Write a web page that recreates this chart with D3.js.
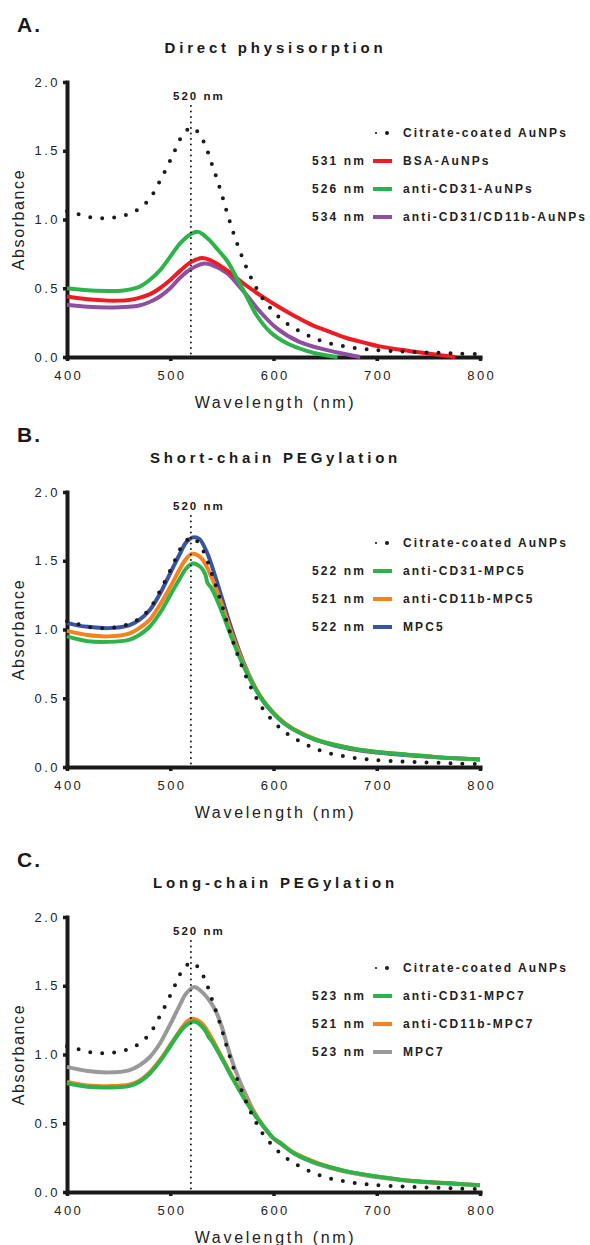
<!DOCTYPE html>
<html>
<head>
<meta charset="utf-8">
<script src="https://cdn.jsdelivr.net/npm/d3@7"></script>
<style>
	body { margin: 0; background: #fff; }
	svg { display: block; font-family: "Liberation Sans", Arial, sans-serif; }
</style>
</head>
<body>
<div id="chart"></div>
<script>
// UV-vis spectra of AuNP conjugates, three stacked panels

const WIDTH = 590;
const HEIGHT = 1245;

// --- data: [wavelength nm, absorbance] ---
const citrate = [[400,1.06],[410,1.04],[420,1.02],[430,1.01],[440,1.01],[450,1.02],[460,1.04],[470,1.08],[480,1.15],[490,1.28],[500,1.43],[505,1.51],[510,1.59],[515,1.64],[520,1.67],[525,1.65],[530,1.60],[535,1.52],[540,1.41],[545,1.30],[550,1.18],[555,1.05],[560,0.93],[565,0.82],[570,0.72],[575,0.63],[580,0.55],[585,0.48],[590,0.42],[600,0.33],[610,0.26],[620,0.21],[630,0.17],[640,0.135],[650,0.108],[660,0.09],[670,0.076],[680,0.065],[690,0.056],[700,0.05],[720,0.041],[740,0.035],[760,0.03],[780,0.025],[800,0.02]];

// panel A
const bsaAuNPs = [[400,0.44],[420,0.42],[440,0.41],[450,0.41],[460,0.415],[470,0.43],[480,0.455],[490,0.50],[500,0.56],[510,0.63],[520,0.69],[531,0.72],[540,0.70],[555,0.63],[570,0.54],[587,0.45],[606,0.36],[620,0.30],[638,0.23],[652,0.19],[670,0.14],[690,0.10],[703,0.077],[720,0.056],[735,0.04],[755,0.02],[776,0.0]];
const cd31AuNPs = [[400,0.50],[420,0.485],[440,0.48],[450,0.48],[460,0.49],[470,0.51],[480,0.56],[490,0.63],[500,0.73],[510,0.83],[520,0.895],[527,0.91],[532,0.89],[535,0.87],[538,0.85],[545,0.79],[555,0.70],[564,0.58],[574,0.44],[584,0.30],[597,0.18],[613,0.10],[632,0.045],[645,0.02],[662,0.0]];
const cd31cd11bAuNPs = [[400,0.38],[420,0.365],[440,0.36],[460,0.365],[470,0.375],[480,0.40],[490,0.44],[500,0.50],[510,0.58],[520,0.64],[533,0.68],[540,0.67],[555,0.61],[565,0.53],[574,0.45],[587,0.33],[603,0.21],[625,0.11],[652,0.05],[670,0.02],[684,0.0]];

// panel B
const cd31MPC5 = [[400,0.95],[420,0.915],[440,0.91],[460,0.925],[470,0.96],[480,1.02],[490,1.12],[500,1.25],[510,1.38],[515,1.44],[522,1.48],[530,1.45],[534,1.40],[536,1.34],[540,1.30],[550,1.13],[560,0.93],[570,0.75],[580,0.60],[590,0.48],[600,0.39],[610,0.32],[620,0.27],[640,0.20],[660,0.16],[680,0.13],[700,0.11],[730,0.09],[760,0.07],[800,0.055]];
const cd11bMPC5 = [[400,0.99],[420,0.96],[440,0.95],[460,0.97],[470,1.01],[480,1.07],[490,1.18],[500,1.31],[510,1.45],[515,1.51],[521,1.55],[530,1.52],[540,1.38],[550,1.18],[560,0.96],[570,0.77],[580,0.61],[590,0.485],[600,0.395],[610,0.325],[620,0.275],[640,0.205],[660,0.16],[680,0.13],[700,0.11],[730,0.09],[760,0.07],[800,0.055]];
const mpc5 = [[400,1.05],[410,1.03],[420,1.02],[440,1.01],[460,1.03],[470,1.07],[480,1.14],[490,1.26],[500,1.41],[510,1.56],[515,1.63],[522,1.67],[528,1.66],[535,1.57],[540,1.47],[550,1.23],[560,0.99],[570,0.78],[580,0.61],[590,0.48],[600,0.39],[610,0.32],[620,0.27],[640,0.20],[660,0.155],[680,0.125],[700,0.105],[730,0.085],[760,0.07],[800,0.055]];

// panel C
const cd31MPC7 = [[400,0.79],[420,0.765],[440,0.76],[460,0.77],[470,0.80],[480,0.86],[490,0.95],[500,1.06],[510,1.17],[515,1.21],[523,1.24],[530,1.21],[535,1.16],[537,1.13],[540,1.10],[550,0.97],[560,0.83],[570,0.70],[580,0.58],[590,0.48],[600,0.39],[606,0.36],[620,0.28],[638,0.22],[655,0.18],[671,0.15],[703,0.11],[735,0.08],[768,0.065],[800,0.05]];
const cd11bMPC7 = [[400,0.80],[420,0.775],[440,0.77],[460,0.78],[470,0.81],[480,0.87],[490,0.96],[500,1.07],[510,1.18],[515,1.23],[521,1.26],[530,1.23],[540,1.12],[550,0.98],[560,0.84],[570,0.71],[580,0.59],[590,0.48],[600,0.39],[606,0.36],[620,0.285],[638,0.225],[655,0.18],[671,0.15],[703,0.11],[735,0.08],[768,0.065],[800,0.05]];
const mpc7 = [[400,0.91],[420,0.88],[440,0.87],[460,0.885],[470,0.92],[480,0.98],[490,1.08],[500,1.22],[510,1.37],[515,1.44],[523,1.49],[530,1.46],[540,1.37],[545,1.30],[550,1.20],[555,1.07],[560,0.95],[565,0.85],[570,0.76],[575,0.68],[580,0.60],[590,0.48],[600,0.39],[606,0.355],[620,0.28],[638,0.215],[655,0.175],[671,0.145],[703,0.105],[735,0.078],[768,0.062],[800,0.048]];

const xTicks = [400, 500, 600, 700, 800];
const yTicks = [0, 0.5, 1.0, 1.5, 2.0];

const panels = [
	{letter: 'A.', title: 'Direct physisorption', top: 82, series: [
		{name: 'anti-CD31/CD11b-AuNPs', peak: '534 nm', color: '#8d4f9f', data: cd31cd11bAuNPs, row: 3},
		{name: 'BSA-AuNPs', peak: '531 nm', color: '#ec1c24', data: bsaAuNPs, row: 1},
		{name: 'anti-CD31-AuNPs', peak: '526 nm', color: '#2cb34a', data: cd31AuNPs, row: 2}
	]},
	{letter: 'B.', title: 'Short-chain PEGylation', top: 492, series: [
		{name: 'MPC5', peak: '522 nm', color: '#3a54a4', data: mpc5, row: 3},
		{name: 'anti-CD11b-MPC5', peak: '521 nm', color: '#f58220', data: cd11bMPC5, row: 2},
		{name: 'anti-CD31-MPC5', peak: '522 nm', color: '#2cb34a', data: cd31MPC5, row: 1}
	]},
	{letter: 'C.', title: 'Long-chain PEGylation', top: 917, series: [
		{name: 'MPC7', peak: '523 nm', color: '#999999', data: mpc7, row: 3},
		{name: 'anti-CD11b-MPC7', peak: '521 nm', color: '#f58220', data: cd11bMPC7, row: 2},
		{name: 'anti-CD31-MPC7', peak: '523 nm', color: '#2cb34a', data: cd31MPC7, row: 1}
	]}
];

const LEFT = 67, RIGHT = 480, PH = 275;
const INK = '#1a1a1a';

const svg = d3.select('#chart')
	.append('svg')
	.attr('width', WIDTH)
	.attr('height', HEIGHT)
	.attr('viewBox', `0 0 ${WIDTH} ${HEIGHT}`);

const x = d3.scaleLinear().domain([400, 800]).range([LEFT, RIGHT]);

panels.forEach(p => {
	const g = svg.append('g').attr('transform', `translate(0,${p.top})`);
	const y = d3.scaleLinear().domain([0, 2]).range([PH, 0]);

	// panel letter and title
	g.append('text')
		.attr('x', 17).attr('y', -50)
		.attr('font-size', 21).attr('font-weight', 'bold')
		.attr('letter-spacing', 2).attr('fill', INK)
		.text(p.letter);
	g.append('text')
		.attr('x', (LEFT + RIGHT) / 2 + 2).attr('y', -29)
		.attr('text-anchor', 'middle')
		.attr('font-size', 15).attr('font-weight', 'bold')
		.attr('letter-spacing', 3.8).attr('fill', INK)
		.text(p.title);

	// axes
	const yAxis = g.append('g')
		.attr('transform', `translate(${LEFT},0)`)
		.call(d3.axisLeft(y).tickValues(yTicks).tickFormat(d3.format('.1f')).tickSize(4).tickSizeOuter(0).tickPadding(3));
	const xAxis = g.append('g')
		.attr('transform', `translate(0,${PH})`)
		.call(d3.axisBottom(x).tickValues(xTicks).tickSize(4).tickSizeOuter(0).tickPadding(10));

	[yAxis, xAxis].forEach(ax => {
		ax.select('.domain').attr('stroke', INK).attr('stroke-width', 4).attr('stroke-linecap', 'square');
		ax.selectAll('.tick line').attr('stroke', INK).attr('stroke-width', 3.5);
		ax.selectAll('.tick text')
			.attr('fill', '#222')
			.style('font-size', '13px')
			.style('letter-spacing', '2.5px')
			.style('font-family', '"Liberation Sans", Arial, sans-serif');
	});
	xAxis.selectAll('.tick text').attr('dx', 1.25);

	g.append('text')
		.attr('x', (LEFT + RIGHT) / 2 + 2).attr('y', PH + 51)
		.attr('text-anchor', 'middle')
		.attr('font-size', 16).attr('letter-spacing', 2.7).attr('fill', '#222')
		.text('Wavelength (nm)');
	g.append('text')
		.attr('transform', `translate(24,${PH / 2}) rotate(-90)`)
		.attr('text-anchor', 'middle')
		.attr('font-size', 16).attr('letter-spacing', 1.6).attr('fill', '#222')
		.text('Absorbance');

	const line = d3.line()
		.x(d => x(d[0]))
		.y(d => Math.min(y(0), y(d[1])))
		.curve(d3.curveCatmullRom.alpha(0.5));

	p.series.forEach(s => {
		g.append('path')
			.datum(s.data)
			.attr('fill', 'none')
			.attr('stroke', s.color)
			.attr('stroke-width', 4)
			.attr('stroke-linejoin', 'round')
			.attr('d', line);
	});

	// 520 nm reference line
	g.append('line')
		.attr('x1', x(520)).attr('x2', x(520))
		.attr('y1', 24).attr('y2', PH - 2)
		.attr('stroke', INK).attr('stroke-width', 2)
		.attr('stroke-linecap', 'round')
		.attr('stroke-dasharray', '0 5.5');
	g.append('text')
		.attr('x', x(520) + 8).attr('y', 18)
		.attr('text-anchor', 'middle')
		.attr('font-size', 11.5).attr('font-weight', 'bold')
		.attr('letter-spacing', 2).attr('fill', INK)
		.text('520 nm');

	// citrate reference, dotted
	g.append('path')
		.datum(citrate)
		.attr('fill', 'none')
		.attr('stroke', INK)
		.attr('stroke-width', 4)
		.attr('stroke-linecap', 'round')
		.attr('stroke-dasharray', '0 12')
		.attr('d', line);

	// legend
	const leg = g.append('g');
	const rowY = r => 51 + r * 28;
	leg.append('circle').attr('cx', 376).attr('cy', rowY(0)).attr('r', 1.1).attr('fill', INK);
	leg.append('circle').attr('cx', 387).attr('cy', rowY(0)).attr('r', 2).attr('fill', INK);
	leg.append('text')
		.attr('x', 403).attr('y', rowY(0) + 4)
		.attr('font-size', 12).attr('font-weight', 'bold')
		.attr('letter-spacing', 2.1).attr('fill', '#222')
		.text('Citrate-coated AuNPs');

	p.series.forEach(s => {
		const cy = rowY(s.row);
		leg.append('line')
			.attr('x1', 373).attr('x2', 392)
			.attr('y1', cy).attr('y2', cy)
			.attr('stroke', s.color).attr('stroke-width', 4);
		leg.append('text')
			.attr('x', 403).attr('y', cy + 4)
			.attr('font-size', 12).attr('font-weight', 'bold')
			.attr('letter-spacing', 2.1).attr('fill', '#222')
			.text(s.name);
		leg.append('text')
			.attr('x', 366).attr('y', cy + 4)
			.attr('text-anchor', 'end')
			.attr('font-size', 12).attr('font-weight', 'bold')
			.attr('letter-spacing', 2.1).attr('fill', '#222')
			.text(s.peak);
	});
});
</script>
</body>
</html>
